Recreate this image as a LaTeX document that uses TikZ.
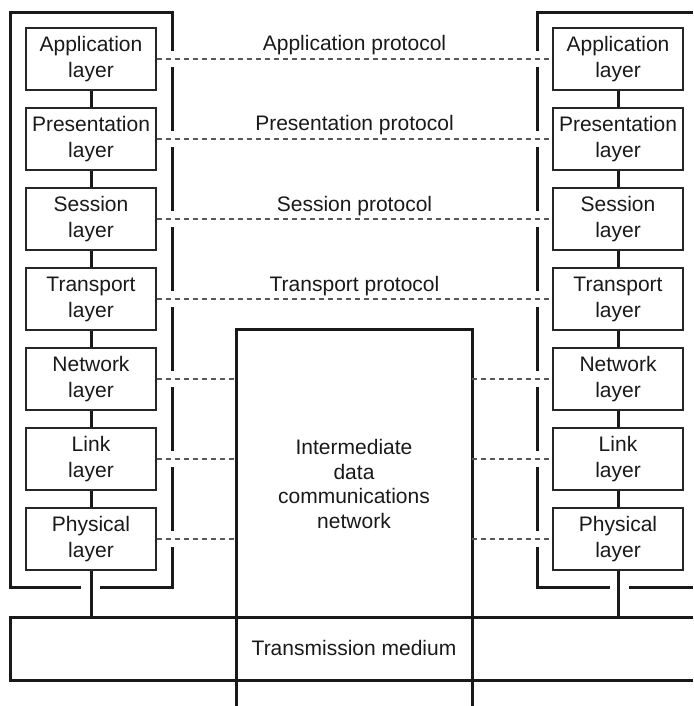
\documentclass[tikz,border=0pt]{standalone}
\usepackage{fontspec}
\setmainfont{Liberation Sans}
\begin{document}
\begin{tikzpicture}[x=1pt,y=-1pt,
  font=\fontsize{21}{24.5}\selectfont,
  layerbox/.style={draw=black!85, line width=1.3pt, minimum width=130pt, minimum height=62pt, inner sep=0pt, align=center, text=black!90, font=\fontsize{21}{26}\selectfont},
  frame/.style={draw=black!90, line width=3pt},
  stackjoint/.style={draw=black!90, line width=3pt},
  peer/.style={draw=black!65, line width=1.1pt, dash pattern=on 5pt off 4pt},
  label/.style={text=black!90, inner sep=0pt}]
\useasboundingbox (0,0) rectangle (693,706);

% layer stacks on both hosts
\foreach \name/\txt [count=\k from 0] in {A/Application, P/Presentation, S/Session, T/Transport, N/Network, K/Link, H/Physical}{
  \node[layerbox] (L\name) at (91,{59+80*\k}) {\txt\\layer};
  \node[layerbox] (R\name) at (618,{59+80*\k}) {\txt\\layer};
}

% joints between adjacent layers
\foreach \a/\b in {A/P, P/S, S/T, T/N, N/K, K/H}{
  \draw[stackjoint] (L\a.south) -- (L\b.north);
  \draw[stackjoint] (R\a.south) -- (R\b.north);
}

% host enclosures, opened where the peer lines pass
\draw[frame] (81,587) -- (10,587) -- (10,13) -- (172,13) -- (172,51);
\foreach \k in {0,...,5}{
  \draw[frame] (172,{67+80*\k}) -- (172,{131+80*\k});
}
\draw[frame] (172,547) -- (172,587) -- (100,587);

\draw[frame] (693,13) -- (537,13) -- (537,51);
\foreach \k in {0,...,5}{
  \draw[frame] (537,{67+80*\k}) -- (537,{131+80*\k});
}
\draw[frame] (537,547) -- (537,587) -- (610,587);
\draw[frame] (629,587) -- (693,587);

% transmission medium
\coordinate (medL) at (10,617);
\draw[frame] (693,617) -- (medL) -- (10,680) -- (693,680);
\node[label] (med) at (354,648) {Transmission medium};

% intermediate network
\coordinate (netW) at (236,329);
\coordinate (netE) at (472,329);
\draw[frame] (236,706) -- (netW) -- (netE) -- (472,706);
\node[label, align=center] (net) at (354,484) {Intermediate\\data\\communications\\network};

% attachments to the medium
\draw[stackjoint] (LH.south) -- (LH.south |- medL);
\draw[stackjoint] (RH.south) -- (RH.south |- medL);

% peer-to-peer protocols
\foreach \name/\txt in {A/Application protocol, P/Presentation protocol, S/Session protocol, T/Transport protocol}{
  \draw[peer] (L\name.east) -- node[label, pos=0.5, anchor=base, yshift=8pt] {\txt} (R\name.west);
}
\foreach \name in {N, K, H}{
  \draw[peer] (L\name.east) -- (L\name.east -| netW);
  \draw[peer] (R\name.west -| netE) -- (R\name.west);
}
\end{tikzpicture}
\end{document}
